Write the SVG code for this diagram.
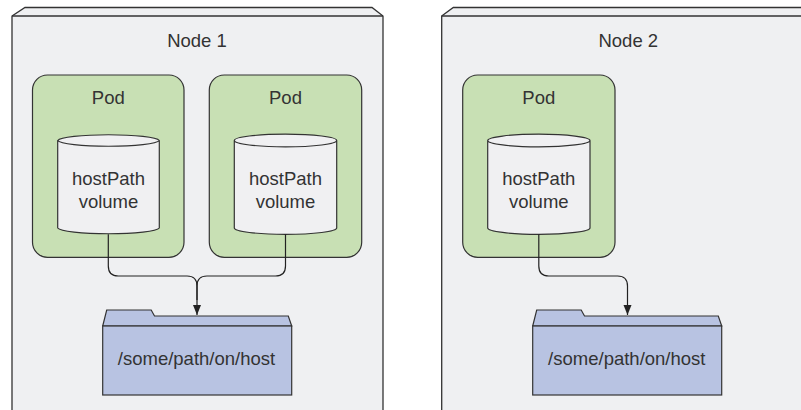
<svg xmlns="http://www.w3.org/2000/svg" width="801" height="410" viewBox="0 0 801 410">
<style>
.node{fill:#eff0f2;stroke:#333;stroke-width:1.3}
.pod{fill:#c8e0b4;stroke:#333;stroke-width:1.2}
.cyl{fill:#f0f0f2;stroke:#333;stroke-width:1.2}
.folder{fill:#b8c3e2;stroke:#333;stroke-width:1.2}
.conn{fill:none;stroke:#222;stroke-width:1.2}
text{font-family:"Liberation Sans",Arial,sans-serif;font-size:18.5px;fill:#333;text-anchor:middle}
</style>
<defs>
<marker id="arr" markerUnits="userSpaceOnUse" markerWidth="10" markerHeight="12" refX="10" refY="4" orient="auto" viewBox="0 0 10 8">
<path d="M0,0 L10,4 L0,8 Z" fill="#222"/>
</marker>
</defs>
<g id="node1">
<path class="node" d="M12,16 L25,7.5 L372,7.5 L383,16 L383,420 L12,420 Z"/>
<path class="node" d="M12,16 L383,16" fill="none"/>
<text x="197" y="47">Node 1</text>
</g>
<g id="node2">
<path class="node" d="M441.7,16 L453.3,7.5 L812,7.5 L812,420 L441.7,420 Z"/>
<path class="node" d="M441.7,16 L812,16" fill="none"/>
<text x="628.3" y="47">Node 2</text>
</g>
<g id="pod1">
<rect class="pod" x="32.5" y="75" width="151.5" height="182.3" rx="15"/>
<text x="108.3" y="104">Pod</text>
</g>
<g id="pod2">
<rect class="pod" x="209.3" y="75" width="152.4" height="182.3" rx="15"/>
<text x="285.5" y="104">Pod</text>
</g>
<g id="pod3">
<rect class="pod" x="462.7" y="75" width="152.3" height="182.3" rx="15"/>
<text x="538.8" y="104">Pod</text>
</g>
<g id="vol1">
<path class="cyl" d="M57.7,140.5 V228 A51,6.3 0 0 0 159.3,228 V140.5 A51,6.3 0 0 0 57.7,140.5 A51,6.3 0 0 0 159.3,140.5"/>
<text x="108.5" y="185">hostPath</text>
<text x="108.5" y="208">volume</text>
</g>
<g id="vol2">
<path class="cyl" d="M234.3,140.5 V228 A51,6.3 0 0 0 336.7,228 V140.5 A51,6.3 0 0 0 234.3,140.5 A51,6.3 0 0 0 336.7,140.5"/>
<text x="285.5" y="185">hostPath</text>
<text x="285.5" y="208">volume</text>
</g>
<g id="vol3">
<path class="cyl" d="M487.7,140.5 V228 A51,6.3 0 0 0 590,228 V140.5 A51,6.3 0 0 0 487.7,140.5 A51,6.3 0 0 0 590,140.5"/>
<text x="538.8" y="185">hostPath</text>
<text x="538.8" y="208">volume</text>
</g>
<g id="folder1">
<path class="folder" d="M102.7,326 L106.7,310 L151.2,310 L154.5,316 L288.3,316 L291.7,326 Z"/>
<rect class="folder" x="102.7" y="326" width="189" height="69"/>
<text x="196.5" y="365">/some/path/on/host</text>
</g>
<g id="folder2">
<path class="folder" d="M532.7,326 L536.7,310 L581.2,310 L584.5,316 L718.3,316 L721.7,326 Z"/>
<rect class="folder" x="532.7" y="326" width="189" height="69"/>
<text x="626.8" y="365">/some/path/on/host</text>
</g>
<g id="connectors">
<path class="conn" d="M108.3,234.3 V266 Q108.3,276 118.3,276 H187 Q197,276 197,286 V315" marker-end="url(#arr)"/>
<path class="conn" d="M285.5,234.3 V266 Q285.5,276 275.5,276 H207 Q197,276 197,286 V300"/>
<path class="conn" d="M538.8,234.3 V266 Q538.8,276 548.8,276 H617.5 Q627.5,276 627.5,286 V315" marker-end="url(#arr)"/>
</g>
</svg>
